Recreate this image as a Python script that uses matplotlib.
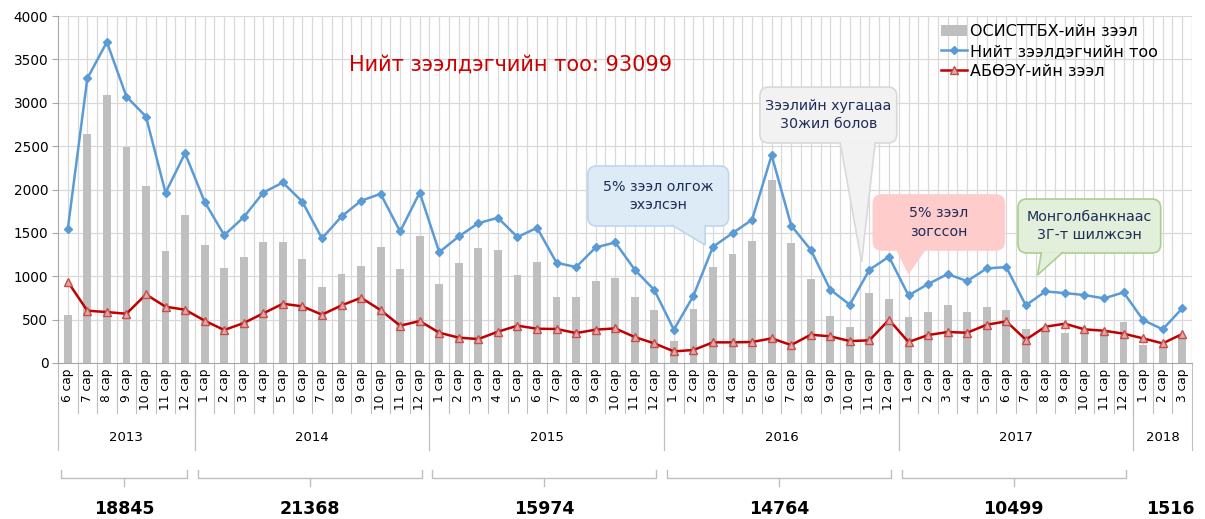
import numpy as np
import matplotlib
matplotlib.use("Agg")
import matplotlib.pyplot as plt
from matplotlib.patches import FancyBboxPatch, Polygon
from matplotlib.transforms import blended_transform_factory

plt.rcParams['font.family'] = ['DejaVu Sans']

# ---- өгөгдөл ----
years = [2013, 2014, 2015, 2016, 2017, 2018]
year_months = [list(range(6, 13)), list(range(1, 13)), list(range(1, 13)),
               list(range(1, 13)), list(range(1, 13)), [1, 2, 3]]
year_totals = [18845, 21368, 15974, 14764, 10499, 1516]

# ОСИСТТБХ-ийн зээл (баганa)
osisttbh = [557, 2641, 3094, 2495, 2035, 1294, 1708,
            1359, 1090, 1225, 1393, 1390, 1202, 879, 1021, 1113, 1336, 1086, 1466,
            914, 1152, 1324, 1305, 1013, 1163, 764, 756, 944, 983, 764, 607,
            250, 618, 1102, 1255, 1405, 2104, 1386, 967, 537, 415, 806, 733,
            534, 587, 668, 591, 645, 614, 392, 400, 345, 390, 360, 476,
            207, 190, 307]

# Нийт зээлдэгчийн тоо
niit = [1543, 3280, 3700, 3071, 2841, 1962, 2418,
        1858, 1474, 1681, 1965, 2081, 1858, 1436, 1689, 1870, 1950, 1516, 1965,
        1278, 1459, 1612, 1674, 1451, 1559, 1155, 1106, 1332, 1390, 1075, 841,
        384, 775, 1340, 1497, 1651, 2395, 1585, 1305, 845, 672, 1075, 1225,
        779, 910, 1025, 944, 1090, 1106, 664, 825, 806, 783, 745, 814,
        495, 388, 630]

# АБӨЭҮ-ийн зээл
abooy = [937, 603, 587, 568, 791, 649, 614,
         488, 380, 461, 572, 683, 653, 557, 664, 752, 610, 430, 484,
         349, 292, 276, 361, 430, 395, 392, 345, 384, 399, 299, 226,
         134, 150, 238, 238, 242, 284, 207, 326, 307, 253, 261, 499,
         242, 322, 357, 349, 441, 480, 269, 418, 453, 388, 372, 338,
         284, 226, 334]

title_text = "Нийт зээлдэгчийн тоо: 93099"

# тайлбар хайрцагууд: текст, хайрцаг (x0, x1, y0, y1), сүүл (3 цэг), өнгө
callouts = [
    ("5% зээл олгож\nэхэлсэн", (26.6, 33.8, 1579, 2271),
     [(30.9, 1590), (32.6, 1360), (32.6, 1590)], "#DDEBF7", "#BDD7EE"),
    ("Зээлийн хугацаа\n30жил болов", (35.4, 42.4, 2536, 3181),
     [(39.5, 2546), (40.6, 1164), (41.3, 2546)], "#F2F2F2", "#D9D9D9"),
    ("5% зээл\nзогссон", (41.2, 47.9, 1303, 1937),
     [(42.4, 1313), (43.0, 1037), (43.85, 1313)], "#FFCCCC", "#FFCCCC"),
    ("Монголбанкнаас\n3Г-т шилжсэн", (48.6, 55.9, 1268, 1890),
     [(49.8, 1278), (49.6, 1014), (50.9, 1278)], "#E2EFDA", "#A9D08E"),
]

labels = []
for ms in year_months:
    for m in ms:
        labels.append(f"{m} сар")
n = len(labels)
x = np.arange(n)

W, H = 1205, 519
fig = plt.figure(figsize=(W / 100, H / 100), dpi=100)
ax = fig.add_axes([58 / W, (H - 363) / H, 1134 / W, 347 / H])

grid_c = "#D9D9D9"
ax.set_xlim(-0.5, n - 0.5)
ax.set_ylim(0, 4000)
for yv in np.arange(500, 4001, 500):
    ax.axhline(yv, color=grid_c, lw=0.9, zorder=0)
for xv in np.arange(0, n - 0.25, 0.5):
    ax.axvline(xv, color=grid_c, lw=0.9, zorder=0)
ax.axvline(n - 0.5, color=grid_c, lw=0.9, zorder=0)

bars = ax.bar(x, osisttbh, width=0.4, color="#BFBFBF", zorder=2,
              label="ОСИСТТБХ-ийн зээл")
l_blue, = ax.plot(x, niit, color="#5B9BD5", lw=1.8, marker="D", ms=4.5,
                  mfc="#5B9BD5", mec="#5B9BD5", zorder=4,
                  label="Нийт зээлдэгчийн тоо")
l_red, = ax.plot(x, abooy, color="#C00000", lw=1.8, marker="^", ms=6,
                 mfc="#E6A5A5", mec="#C0504D", mew=1.0, zorder=4,
                 label="АБӨЭҮ-ийн зээл")

# тайлбар хайрцагууд
aspect = (4000 / 347) * (1134 / n)
for txt, (x0, x1, y0, y1), tail, fc, ec in callouts:
    box = FancyBboxPatch((x0, y0), x1 - x0, y1 - y0,
                         boxstyle="round,pad=0,rounding_size=0.45",
                         mutation_aspect=aspect, fc=fc, ec=ec, lw=1.2, zorder=5)
    ax.add_patch(box)
    tail_poly = Polygon(tail, closed=False, fc=fc, ec=ec, lw=1.2, zorder=5)
    ax.add_patch(tail_poly)
    ax.text((x0 + x1) / 2, (y0 + y1) / 2, txt, ha="center", va="center",
            fontsize=10.3, color="#1F2D5A", linespacing=1.4, zorder=6)

ax.text(0.399, 0.859, title_text, transform=ax.transAxes, ha="center",
        va="center", fontsize=15, color="#CC0000")

ax.legend(handles=[bars, l_blue, l_red], loc="upper left",
          bbox_to_anchor=((941 - 58) / 1134, (363 - 24) / 347),
          frameon=False, fontsize=11.5, handlelength=1.6, handletextpad=0.2,
          labelspacing=0.3, borderpad=0, borderaxespad=0)

# тэнхлэгүүд
for s in ["top", "right"]:
    ax.spines[s].set_visible(False)
ax.spines["left"].set_color("#A6A6A6")
ax.spines["bottom"].set_color("#A6A6A6")
ax.set_yticks(np.arange(0, 4001, 500))
ax.tick_params(axis="y", length=4, color="#A6A6A6", labelsize=9.8, pad=3)
ax.set_xticks(x)
ax.set_xticklabels(labels, rotation=90, fontsize=8.7)
ax.tick_params(axis="x", length=0, pad=4)

trans = blended_transform_factory(ax.transData, ax.transAxes)
sep_c = "#BFBFBF"
for xv in np.arange(0.5, n - 1, 1):
    ax.plot([xv, xv], [0, -0.145], transform=trans, color=sep_c, lw=0.8,
            clip_on=False)

start = 0
for yr, ms, tot in zip(years, year_months, year_totals):
    end = start + len(ms)
    left, right = start - 0.5, end - 0.5
    for xv in (left, right):
        ax.plot([xv, xv], [0, -0.25], transform=trans, color=sep_c, lw=0.8,
                clip_on=False)
    ax.text((left + right) / 2, -0.216, str(yr), transform=trans, ha="center",
            va="center", fontsize=9.5)
    if len(ms) > 3:
        b0, b1 = left + 0.15, right - 0.4
        mid = (b0 + b1) / 2
        ax.plot([b0, b0, b1, b1], [-0.308, -0.331, -0.331, -0.308],
                transform=trans, color=sep_c, lw=1.0, clip_on=False)
        ax.plot([mid, mid], [-0.331, -0.354], transform=trans, color=sep_c,
                lw=1.0, clip_on=False)
    else:
        mid = (left + right) / 2 + 0.4
    ax.text(mid, -0.421, str(tot), transform=trans, ha="center", va="center",
            fontsize=12.5, fontweight="bold")
    start = end

fig.savefig("out.png", dpi=100)
